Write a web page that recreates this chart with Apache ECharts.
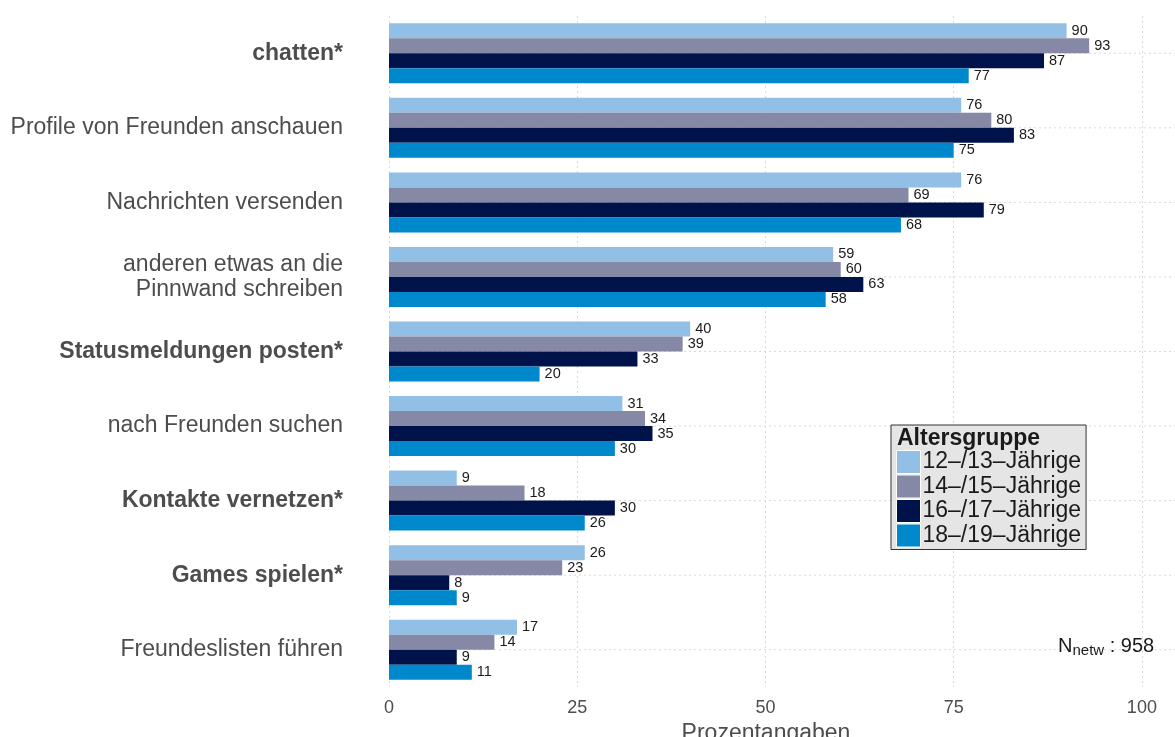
<!DOCTYPE html>
<html>
<head>
<meta charset="utf-8">
<script src="https://cdn.jsdelivr.net/npm/echarts@6/dist/echarts.min.js"></script>
<style>
html,body{margin:0;padding:0;background:#fff;}
#chart{width:1175px;height:737px;}
</style>
</head>
<body>
<div id="chart"></div>
<script>
// Daten
var categories = ["chatten*", "Profile von Freunden anschauen", "Nachrichten versenden",
	"anderen etwas an die\nPinnwand schreiben", "Statusmeldungen posten*", "nach Freunden suchen",
	"Kontakte vernetzen*", "Games spielen*", "Freundeslisten führen"];
var groups = ["12–/13–Jährige", "14–/15–Jährige", "16–/17–Jährige", "18–/19–Jährige"];
var age12_13 = [90, 76, 76, 59, 40, 31, 9, 26, 17];
var age14_15 = [93, 80, 69, 60, 39, 34, 18, 23, 14];
var age16_17 = [87, 83, 79, 63, 33, 35, 30, 8, 9];
var age18_19 = [77, 75, 68, 58, 20, 30, 26, 9, 11];
var xTicks = [0, 25, 50, 75, 100];

var colors = ["#92bfe6", "#8589a5", "#00124a", "#0088cc"];
var font = "Liberation Sans, Arial, sans-serif";

var myChart = echarts.init(document.getElementById('chart'));

function makeSeries(name, data, i){
	return {
		name: name,
		type: "bar",
		data: data,
		barWidth: 15,
		barGap: "0%",
		itemStyle: { color: colors[i] },
		label: {
			show: true,
			position: "right",
			distance: 5,
			fontFamily: font,
			fontSize: 14.5,
			color: "#1a1a1a"
		},
		emphasis: { disabled: true }
	};
}

var option = {
	animation: false,
	backgroundColor: "#fff",
	grid: { left: 389, right: 3, top: 16, bottom: 50, outerBoundsMode: "none" },
	xAxis: {
		type: "value",
		min: 0,
		max: 104,
		interval: 25,
		axisLine: { show: false },
		axisTick: { show: false },
		axisLabel: {
			margin: 12,
			fontFamily: font,
			fontSize: 18,
			color: "#4d4d4d",
			showMaxLabel: false,
			formatter: function(v){ return xTicks.indexOf(v) >= 0 ? String(v) : ""; }
		},
		splitLine: { show: true, showMaxLine: false, lineStyle: { color: "#d9d9d9", type: [2, 3], width: 1 } },
		name: "Prozentangaben",
		nameLocation: "middle",
		nameGap: 24,
		nameTextStyle: { fontFamily: font, fontSize: 23, color: "#4d4d4d", padding: [0, 29, 0, 0] }
	},
	yAxis: {
		type: "category",
		data: categories,
		inverse: true,
		axisLine: { show: false },
		axisTick: { show: false },
		splitLine: { show: false },
		axisLabel: {
			margin: 46,
			fontFamily: font,
			fontSize: 23,
			lineHeight: 25,
			color: "#4d4d4d",
			align: "right",
			formatter: function(v){
				return v.indexOf("*") >= 0 ? "{b|" + v + "}" : v;
			},
			rich: {
				b: { fontWeight: "bold", fontFamily: font, fontSize: 23, color: "#4d4d4d" }
			}
		}
	},
	legend: {
		orient: "vertical",
		left: 891,
		top: 425,
		data: groups,
		backgroundColor: "#e5e5e5",
		borderColor: "#333",
		borderWidth: 1,
		padding: [25, 5, 2, 5],
		itemWidth: 24,
		itemHeight: 23,
		itemGap: 0.5,
		icon: "rect",
		selectedMode: false,
		itemStyle: { borderColor: "#fff", borderWidth: 1 },
		textStyle: { fontFamily: font, fontSize: 23, color: "#1a1a1a", padding: [0, 0, 0, -3] }
	},
	graphic: [
		{
			type: "text",
			left: 897,
			top: 427,
			z: 100,
			style: { text: "Altersgruppe", font: "bold 23px " + font, fill: "#1a1a1a" }
		},
		{
			type: "text",
			left: 1058,
			top: 636,
			style: {
				text: "{n|N}{s|netw}{n| : 958}",
				rich: {
					n: { font: "20px " + font, fill: "#1a1a1a" },
					s: { font: "15px " + font, fill: "#1a1a1a", padding: [9, 0, 0, 0] }
				}
			}
		}
	],
	series: [
		makeSeries(groups[0], age12_13, 0),
		makeSeries(groups[1], age14_15, 1),
		makeSeries(groups[2], age16_17, 2),
		makeSeries(groups[3], age18_19, 3)
	]
};

myChart.setOption(option);

// horizontale Hilfslinien in der Mitte der Kategorien
var lines = [];
categories.forEach(function(c){
	var y = myChart.convertToPixel({ yAxisIndex: 0 }, c);
	lines.push({
		type: "line",
		z: -1,
		shape: { x1: 389, y1: y, x2: 1175, y2: y },
		style: { stroke: "#d9d9d9", lineWidth: 1, lineDash: [2, 3] }
	});
});
myChart.setOption({ graphic: option.graphic.concat(lines) });
</script>
</body>
</html>
